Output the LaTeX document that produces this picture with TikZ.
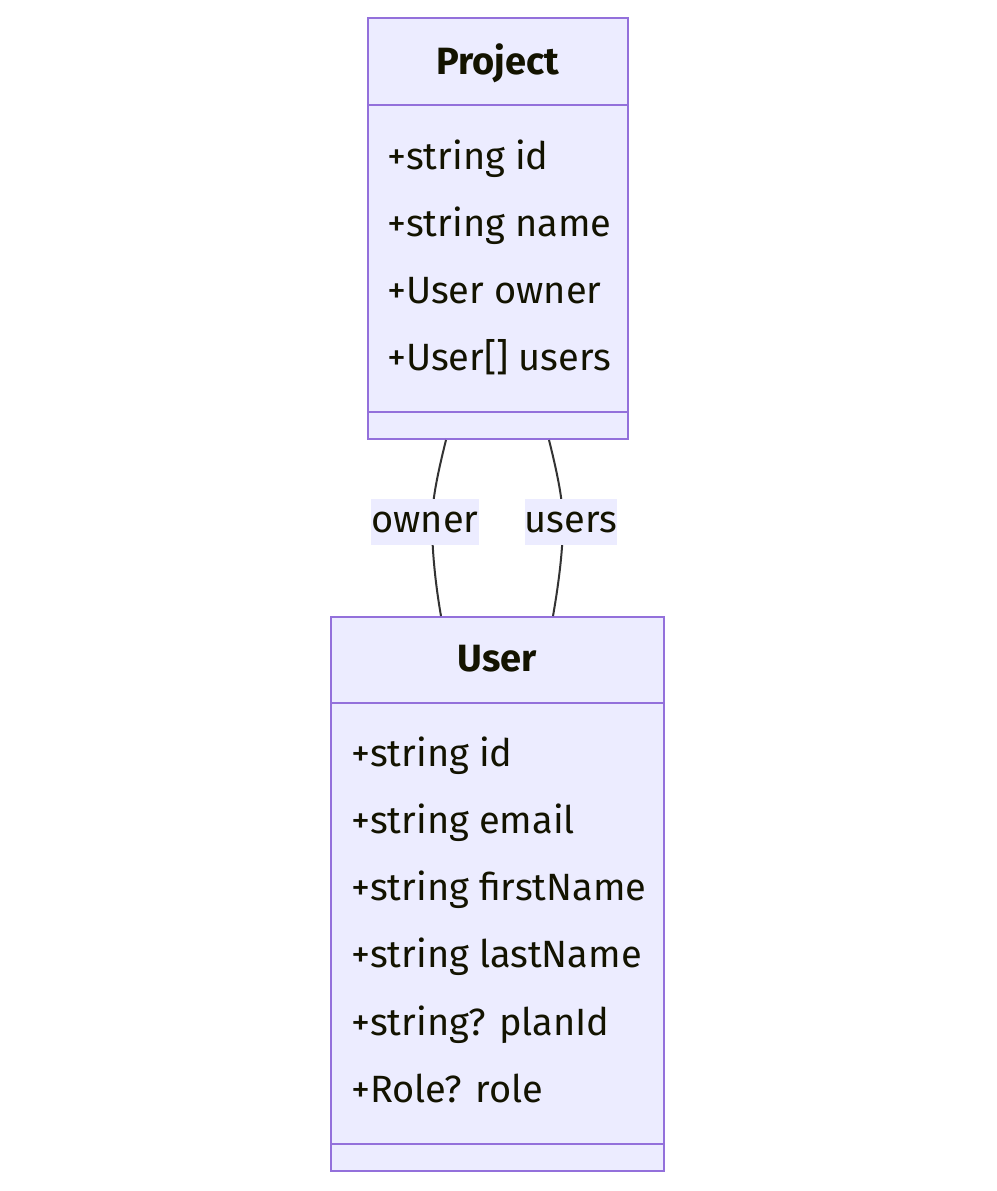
\documentclass[tikz,border=0pt]{standalone}
\usepackage{fontspec}
\setmainfont{Fira Sans}
\definecolor{boxfill}{HTML}{ECECFF}
\definecolor{boxline}{HTML}{9370DB}
\definecolor{txt}{HTML}{131300}
\definecolor{edge}{HTML}{333333}
\begin{document}
\begin{tikzpicture}[x=1pt,y=-1pt,
  classbox/.style={draw=boxline,fill=boxfill,line width=2pt,inner sep=0pt},
  divider/.style={draw=boxline,line width=2pt},
  title/.style={font=\fontsize{38}{40}\selectfont\bfseries,text=txt,inner sep=0pt},
  attr/.style={font=\fontsize{38}{40}\selectfont,text=txt,anchor=base west,inner sep=0pt},
  elabel/.style={fill=boxfill,font=\fontsize{38}{40}\selectfont,text=txt,inner sep=0pt,minimum height=46pt},
  conn/.style={draw=edge,line width=2pt}]
\useasboundingbox (0,0) rectangle (996,1191);
% Project class
\node[classbox,minimum width=260pt,minimum height=421pt] (project) at (498,228.5) {};
\draw[divider] (368,105) -- (628,105);
\draw[divider] (368,412) -- (628,412);
\node[title,anchor=base] (ptitle) at (498,74) {Project};
\node[attr] (p1) at (387,169) {+string id};
\node[attr] (p2) at (387,236) {+string name};
\node[attr] (p3) at (387,303) {+User owner};
\node[attr] (p4) at (387,370) {+User[] users};
% User class
\node[classbox,minimum width=333pt,minimum height=554pt] (user) at (497.5,894) {};
\draw[divider] (331,703) -- (664,703);
\draw[divider] (331,1144) -- (664,1144);
\node[title,anchor=base] (utitle) at (497.5,671) {User};
\node[attr] (u1) at (351,766) {+string id};
\node[attr] (u2) at (351,833) {+string email};
\node[attr] (u3) at (351,900) {+string firstName};
\node[attr] (u4) at (351,967) {+string lastName};
\node[attr] (u5) at (351,1035) {+string? planId};
\node[attr] (u6) at (351,1102) {+Role? role};
% connectors
\coordinate (po) at (446,440);
\coordinate (pu) at (549,440);
\coordinate (uo) at (441,616);
\coordinate (uu) at (553,616);
\coordinate (mo) at (432,522);
\coordinate (mu) at (563,522);
\draw[conn] (po) .. controls (438,472) and (432,500) .. (mo) .. controls (432,548) and (435,582) .. (uo);
\draw[conn] (pu) .. controls (557,472) and (563,500) .. (mu) .. controls (563,548) and (559,582) .. (uu);
\node[elabel,minimum width=106pt] (lo) at (425,522) {owner};
\node[elabel,minimum width=88pt] (lu) at (571,522) {users};
\end{tikzpicture}
\end{document}
